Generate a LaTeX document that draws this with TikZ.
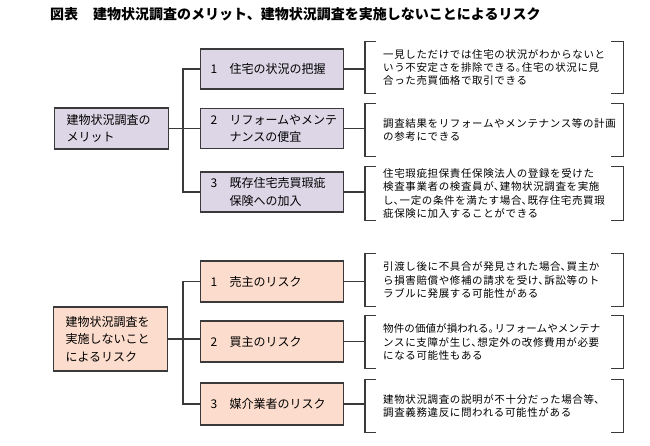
\documentclass[tikz,border=0pt]{standalone}
\usepackage{fontspec}
\setmainfont{Noto Sans CJK JP}
\newfontfamily\jptitle{Noto Sans CJK JP}
\newfontfamily\jpbox{Noto Sans CJK JP}
\newfontfamily\jpnote[LetterSpace=6]{Noto Sans CJK JP}
\newfontfamily\jpnotetight[LetterSpace=1]{Noto Sans CJK JP}
\definecolor{lav}{HTML}{DCD6E6}
\definecolor{peach}{HTML}{FCDCCC}
\definecolor{ln}{HTML}{3A3A3A}
\tikzset{
  rootbox/.style={draw=ln, line width=1.1pt, anchor=west, minimum width=114pt, text width=90pt,
    inner xsep=12pt, inner ysep=0pt, align=left, font=\jpbox\fontsize{12}{17.5}\selectfont},
  childbox/.style={draw=ln, line width=1.1pt, anchor=west, minimum width=143pt, minimum height=40pt, text width=123pt,
    inner xsep=10pt, inner ysep=0pt, align=left, font=\jpbox\fontsize{12}{17.5}\selectfont},
  note/.style={anchor=west, minimum width=258pt, text width=222pt, inner xsep=18pt, inner ysep=0pt,
    align=left, font=\jpnote\fontsize{10.5}{13.3}\selectfont},
  conn/.style={draw=ln, line width=1.1pt},
  brk/.style={draw=ln, line width=1.1pt}
}
\newcommand{\nb}[2]{\makebox[19pt][l]{#1}#2}
\newcommand{\nbi}[1]{\hspace*{19pt}#1}
\newcommand{\hp}[1]{\makebox[6pt][l]{#1}}
\begin{document}
\begin{tikzpicture}[x=1pt,y=-1pt]
\useasboundingbox (0,0) rectangle (650,446);
\node[anchor=west, font=\jptitle\bfseries\fontsize{14}{16}\selectfont, inner sep=0pt] (title) at (50,14)
  {図表\hspace{15pt}建物状況調査のメリット、建物状況調査を実施しないことによるリスク};

% ---- top group
\node[rootbox, fill=lav, minimum height=41pt] (r1) at (54,128.5) {建物状況調査の\\メリット};
\node[childbox, fill=lav] (a1) at (200,69) {\nb{1}{住宅の状況の把握}};
\node[childbox, fill=lav] (a2) at (200,128.5) {\nb{2}{リフォームやメンテ}\\\nbi{ナンスの便宜}};
\node[childbox, fill=lav] (a3) at (200,192) {\nb{3}{既存住宅売買瑕疵}\\\nbi{保険への加入}};
\coordinate (ja) at (183,128.5);
\draw[conn] (r1.east) -- (ja);
\draw[conn] (a1.west) -- (a1.west -| ja) -- (a3.west -| ja) -- (a3.west);
\draw[conn] (ja) -- (a2.west);

\node[note, minimum height=51pt] (n1) at (365,67.5) {一見しただけでは住宅の状況がわからないと\\いう不安定さを排除できる\hp{。}住宅の状況に見\\合った売買価格で取引できる};
\node[note, minimum height=52pt] (n2) at (365,130) {\fontsize{10.5}{17.5}\selectfont 調査結果をリフォームやメンテナンス等の計画\\の参考にできる};
\node[note, minimum height=53pt] (n3) at (365,193.5) {住宅瑕疵担保責任保険法人の登録を受けた\\検査事業者の検査員が\hp{、}建物状況調査を実施\\し\hp{、}一定の条件を満たす場合\hp{、}既存住宅売買瑕\\疵保険に加入することができる};

% ---- bottom group
\node[rootbox, fill=peach, minimum height=64pt] (r2) at (53,339) {建物状況調査を\\実施しないこと\\によるリスク};
\node[childbox, fill=peach, minimum height=41pt] (b1) at (200,281.5) {\nb{1}{売主のリスク}};
\node[childbox, fill=peach, minimum height=41pt] (b2) at (200,341.5) {\nb{2}{買主のリスク}};
\node[childbox, fill=peach, minimum height=42pt] (b3) at (200,404) {\nb{3}{媒介業者のリスク}};
\coordinate (jb) at (183,339);
\draw[conn] (r2.east) -- (jb);
\draw[conn] (b1.west) -- (b1.west -| jb) -- (b3.west -| jb) -- (b3.west);
\draw[conn] (jb) -- (b2.west |- jb);

\node[note, minimum height=52pt] (m1) at (365,280) {\fontsize{10.5}{14}\selectfont 引渡し後に不具合が発見された場合\hp{、}買主か\\ら損害賠償や修補の請求を受け\hp{、}訴訟等のト\\ラブルに発展する可能性がある};
\node[note, minimum height=52pt] (m2) at (365,342) {\fontsize{10.5}{13.7}\selectfont {\jpnotetight 物件の価値が損われる\hp{。}リフォームやメンテナ}\\ンスに支障が生じ\hp{、}想定外の改修費用が必要\\になる可能性もある};
\node[note, minimum height=52pt] (m3) at (365,406) {\fontsize{10.5}{16}\selectfont 建物状況調査の説明が不十分だった場合等\hp{、}\\調査義務違反に問われる可能性がある};

\draw[conn] (a1.east) -- (a1.east -| n1.west);
\draw[conn] (a2.east) -- (a2.east -| n2.west);
\draw[conn] (a3.east) -- (a3.east -| n3.west);
\draw[conn] (b1.east) -- (b1.east -| m1.west);
\draw[conn] (b2.east) -- (b2.east -| m2.west);
\draw[conn] (b3.east) -- (b3.east -| m3.west);

\foreach \n in {n1,n2,n3,m1,m2,m3}{
  \draw[brk] ([xshift=11pt]\n.north west) -- (\n.north west) -- (\n.south west) -- ([xshift=11pt]\n.south west);
  \draw[brk] ([xshift=-12pt]\n.north east) -- (\n.north east) -- (\n.south east) -- ([xshift=-12pt]\n.south east);
}
\end{tikzpicture}
\end{document}
